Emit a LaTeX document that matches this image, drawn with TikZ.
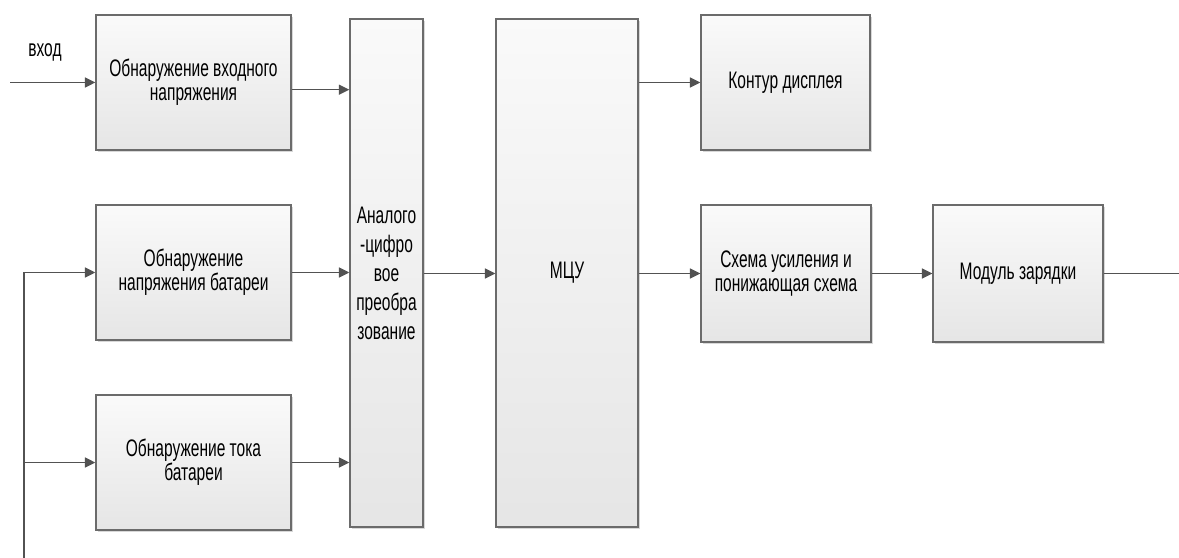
\documentclass[tikz,border=0pt]{standalone}
\usepackage{fontspec}
\setmainfont[FakeStretch=0.65]{Liberation Sans}
\usetikzlibrary{positioning, shapes, arrows.meta, shadows}

\begin{document}
\begin{tikzpicture}[>={Triangle[length=0.26cm,width=0.25cm]},
        block/.style={rectangle, draw=black!58, line width=1pt, top color=white!98!black, bottom color=white!90!black,
                      drop shadow={shadow xshift=0.06cm, shadow yshift=-0.06cm, fill=black!30, opacity=0.5},
                      align=center, font=\fontsize{17}{17}\selectfont},
        wire/.style={draw=black!68, line width=1pt}]
        \useasboundingbox (0,0) rectangle (29.475,-13.95);

        \node at (4.8375,-2.0625) [block, minimum width=4.875cm, minimum height=3.375cm] (inbox) {Обнаружение входного\\напряжения};
        \node at (4.8375,-6.8125) [block, minimum width=4.875cm, minimum height=3.375cm] (vbat) {Обнаружение\\напряжения батареи};
        \node at (4.8375,-11.5625) [block, minimum width=4.875cm, minimum height=3.375cm] (ibat) {Обнаружение тока\\батареи};

        \node at (9.6625,-6.825) [block, minimum width=1.825cm, minimum height=12.7cm, font=\fontsize{17}{20.6}\selectfont] (adc) {Аналого\\-цифро\\вое\\преобра\\зование};
        \node at (14.175,-6.825) [block, minimum width=3.55cm, minimum height=12.7cm] (mcu) {МЦУ};

        \node at (19.6375,-2.0625) [block, minimum width=4.225cm, minimum height=3.375cm] (disp) {Контур дисплея};
        \node at (19.65,-6.8375) [block, minimum width=4.25cm, minimum height=3.425cm] (amp) {Схема усиления и\\понижающая схема};
        \node at (25.45,-6.8375) [block, minimum width=4.25cm, minimum height=3.425cm] (chg) {Модуль зарядки};

        \node at (1.125,-1.3) [font=\fontsize{17}{17}\selectfont] (in_lbl) {вход};
        \coordinate (in_start) at (0.25,-2.0625);
        \coordinate (bus_bot) at (0.6,-13.95);
        \coordinate (out_end) at (29.475,-6.8375);

        \draw[wire, ->] (in_start) -- (inbox.west);
        \draw[wire, ->] ([yshift=-0.18cm]inbox.east) -- ([yshift=-0.18cm]inbox.east -| adc.west);
        \draw[wire, ->] (vbat.east) -- (vbat.east -| adc.west);
        \draw[wire, ->] (ibat.east) -- (ibat.east -| adc.west);
        \draw[wire] (bus_bot) -- (bus_bot |- vbat.west);
        \draw[wire, ->] (bus_bot |- vbat.west) -- (vbat.west);
        \draw[wire, ->] (bus_bot |- ibat.west) -- (ibat.west);

        \draw[wire, ->] (adc.east |- amp.west) -- (mcu.west |- amp.west);
        \draw[wire, ->] (mcu.east |- disp.west) -- (disp.west);
        \draw[wire, ->] (mcu.east |- amp.west) -- (amp.west);
        \draw[wire, ->] (amp.east) -- (chg.west);
        \draw[wire] (chg.east) -- (out_end);
\end{tikzpicture}
\end{document}
